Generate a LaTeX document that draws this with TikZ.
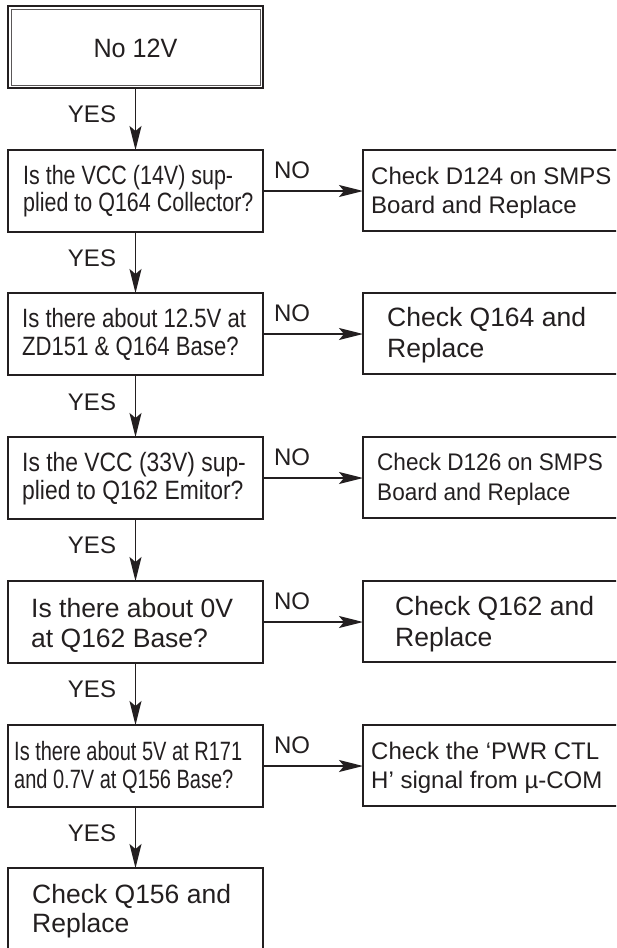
\documentclass[tikz,border=0pt]{standalone}
\usepackage{fontspec}
\setmainfont{Liberation Sans}
\usetikzlibrary{arrows.meta,calc}
\definecolor{ink}{HTML}{231F20}
\newcommand{\sx}[2]{\scalebox{#1}[1]{#2}}
\begin{document}
\begin{tikzpicture}[x=1pt,y=-1pt,
  box/.style={draw=ink, line width=1.8pt, rectangle, inner sep=0pt, outer sep=0pt, anchor=north west, minimum width=255pt, minimum height=82pt},
  rbox/.style={box, minimum width=290pt, minimum height=81pt},
  arr/.style={draw=ink, line width=1.8pt, -{Stealth[length=24pt,width=12pt,inset=5pt]}},
  lbl/.style={text=ink, anchor=base, inner sep=0pt, font=\fontsize{24pt}{28pt}\selectfont},
  txt/.style={text=ink, anchor=base west, inner sep=0pt},
  fa/.style={font=\fontsize{26.5pt}{30pt}\selectfont},
  fb/.style={font=\fontsize{24pt}{29pt}\selectfont},
  fc/.style={font=\fontsize{26.5pt}{31pt}\selectfont}
]
\fill[white] (0,0) rectangle (616,948);
\clip (0,0) rectangle (616,948);

% start box (double frame)
\node[box] (start) at (8,6) {};
\draw[ink!75, line width=0.8pt] ($(start.north west)+(3,3)$) rectangle ($(start.south east)+(-3,-3)$);
\node[txt, anchor=base, fc] (t0) at (135.5,57) {\sx{0.95}{No 12V}};

% question boxes
\node[box] (q1) at (8,150) {};
\node[box] (q2) at (8,293) {};
\node[box] (q3) at (8,437) {};
\node[box] (q4) at (8,581) {};
\node[box] (q5) at (8,725) {};
\node[box, minimum height=100pt] (q6) at (8,868) {};

% answer boxes
\node[rbox] (r1) at (363,150) {};
\node[rbox] (r2) at (363,293) {};
\node[rbox] (r3) at (363,437) {};
\node[rbox] (r4) at (363,581) {};
\node[rbox] (r5) at (363,725) {};

% texts of question boxes
\node[txt,fa] (q1a) at (23,184) {\sx{0.81}{Is the VCC (14V) sup-}};
\node[txt,fa] (q1b) at (23,211) {\sx{0.81}{plied to Q164 Collector?}};
\node[txt,fa] (q2a) at (22,327) {\sx{0.835}{Is there about 12.5V at}};
\node[txt,fa] (q2b) at (22,355) {\sx{0.835}{ZD151 \& Q164 Base?}};
\node[txt,fa] (q3a) at (22,471) {\sx{0.863}{Is the VCC (33V) sup-}};
\node[txt,fa] (q3b) at (22,499) {\sx{0.863}{plied to Q162 Emitor?}};
\node[txt,fc] (q4a) at (31,617) {Is there about 0V};
\node[txt,fc] (q4b) at (31,647) {at Q162 Base?};
\node[txt,fa] (q5a) at (14,760) {\sx{0.755}{Is there about 5V at R171}};
\node[txt,fa] (q5b) at (14,788) {\sx{0.755}{and 0.7V at Q156 Base?}};
\node[txt,fc] (q6a) at (32,903) {Check Q156 and};
\node[txt,fc] (q6b) at (32,932) {Replace};

% texts of answer boxes
\node[txt,fb] (r1a) at (371,184) {Check D124 on SMPS};
\node[txt,fb] (r1b) at (371,213) {Board and Replace};
\node[txt,fc] (r2a) at (387,326) {Check Q164 and};
\node[txt,fc] (r2b) at (387,357) {Replace};
\node[txt,fb] (r3a) at (377,470) {\sx{0.94}{Check D126 on SMPS}};
\node[txt,fb] (r3b) at (377,500) {\sx{0.94}{Board and Replace}};
\node[txt,fc] (r4a) at (395,615) {Check Q162 and};
\node[txt,fc] (r4b) at (395,646) {Replace};
\node[txt,fb] (r5a) at (371,759) {Check the ‘PWR CTL};
\node[txt,fb] (r5b) at (371,788) {H’ signal from µ-COM};

% YES connectors
\draw[arr] (start.south) -- (q1.north);
\draw[arr] (q1.south) -- (q2.north);
\draw[arr] (q2.south) -- (q3.north);
\draw[arr] (q3.south) -- (q4.north);
\draw[arr] (q4.south) -- (q5.north);
\draw[arr] (q5.south) -- (q6.north);
\node[lbl] (y1) at (92,122) {YES};
\node[lbl] (y2) at (92,266) {YES};
\node[lbl] (y3) at (92,410) {YES};
\node[lbl] (y4) at (92,553) {YES};
\node[lbl] (y5) at (92,697) {YES};
\node[lbl] (y6) at (92,841) {YES};

% NO connectors
\draw[arr] (q1.east) -- (q1.east -| r1.west);
\draw[arr] (q2.east) -- (q2.east -| r2.west);
\draw[arr] (q3.east) -- (q3.east -| r3.west);
\draw[arr] (q4.east) -- (q4.east -| r4.west);
\draw[arr] (q5.east) -- (q5.east -| r5.west);
\node[lbl] (n1) at (292,178) {NO};
\node[lbl] (n2) at (292,321) {NO};
\node[lbl] (n3) at (292,465) {NO};
\node[lbl] (n4) at (292,609) {NO};
\node[lbl] (n5) at (292,753) {NO};
\end{tikzpicture}
\end{document}
